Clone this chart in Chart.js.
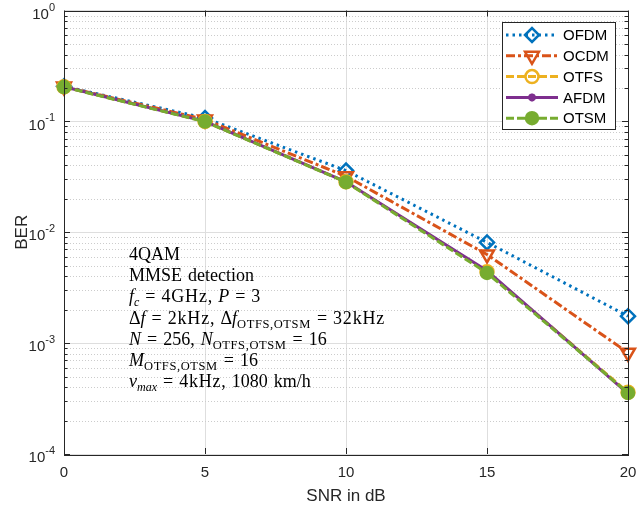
<!DOCTYPE html>
<html lang="en">
<head>
<meta charset="UTF-8">
<title>BER vs SNR</title>
<script src="https://cdn.jsdelivr.net/npm/chart.js@4.4.1/dist/chart.umd.min.js"></script>
<style>
  body { margin: 0; background: #fff; }
  .wrap { position: relative; width: 640px; height: 507px; }
  #note {
    position: absolute; left: 129px; top: 244px;
    font: 18px "Liberation Serif", "DejaVu Serif", serif;
    line-height: 21.2px; color: #000; white-space: nowrap; word-spacing: 1.5px;
  }
  #note sub { font-size: 12px; vertical-align: -4px; line-height: 0; }
  #note sub.w { font-size: 12.5px; letter-spacing: 0.6px; }
  #note .eq { margin: 0 6px; }
  #note .u { letter-spacing: 0.8px; }
</style>
</head>
<body>
<div class="wrap">
  <canvas id="ber"></canvas>
  <div id="note">
    4QAM<br>
    MMSE detection<br>
    <i>f</i><sub><i>c</i></sub><span class="eq">=</span><span class="u">4GHz</span>, <i>P</i><span class="eq">=</span>3<br>
    Δ<i>f</i><span class="eq">=</span><span class="u">2kHz</span>, Δ<i>f</i><sub class="w">OTFS,OTSM</sub><span class="eq">=</span><span class="u">32kHz</span><br>
    <i>N</i><span class="eq">=</span>256, <i>N</i><sub class="w">OTFS,OTSM</sub><span class="eq">=</span>16<br>
    <i>M</i><sub class="w">OTFS,OTSM</sub><span class="eq">=</span>16<br>
    <i>ν</i><sub><i>max</i></sub><span class="eq">=</span><span class="u">4kHz</span>, 1080 km/h
  </div>
</div>
<script>
// values
const snr = [0, 5, 10, 15, 20];
const berOFDM = [0.207, 0.107, 0.036, 0.0081, 0.00175];
const berOCDM = [0.206, 0.104, 0.032, 0.0063, 0.00082];
const berOTFS = [0.205, 0.100, 0.0285, 0.0044, 0.00036];
const berAFDM = [0.205, 0.100, 0.0285, 0.0045, 0.00035];
const berOTSM = [0.204, 0.0995, 0.0283, 0.0043, 0.000355];
const xTicks = [0, 5, 10, 15, 20];
const yExp = [0, -1, -2, -3, -4];

const axisCol = '#262626';

function pts(arr) {
  return snr.map((s, i) => ({ x: s, y: arr[i] }));
}

const datasets = [
  { label: 'OFDM', data: pts(berOFDM), borderColor: '#0072BD', borderDash: [2.5, 4],
    pointStyle: 'rectRot', pointRadius: 7, pointRotation: 0, pointBackgroundColor: 'rgba(0,0,0,0)', order: 5 },
  { label: 'OCDM', data: pts(berOCDM), borderColor: '#D95319', borderDash: [9, 3, 3, 3],
    pointStyle: 'triangle', pointRadius: 8, pointRotation: 180, pointBackgroundColor: 'rgba(0,0,0,0)', order: 4 },
  { label: 'OTFS', data: pts(berOTFS), borderColor: '#EDB120', borderDash: [8, 3],
    pointStyle: 'circle', pointRadius: 6.5, pointRotation: 0, pointBackgroundColor: 'rgba(0,0,0,0)', order: 3 },
  { label: 'AFDM', data: pts(berAFDM), borderColor: '#7E2F8E', borderDash: [],
    pointStyle: 'star', pointRadius: 4, pointRotation: 0, pointBackgroundColor: 'rgba(0,0,0,0)', order: 2 },
  { label: 'OTSM', data: pts(berOTSM), borderColor: '#77AC30', borderDash: [8, 3],
    pointStyle: 'circle', pointRadius: 6, pointRotation: 0, pointBackgroundColor: '#77AC30', order: 1 }
];
datasets.forEach(d => {
  d.borderWidth = 3;
  d.pointBorderColor = d.borderColor;
  d.pointBorderWidth = 2.5;
  d.pointHoverRadius = d.pointRadius;
  d.tension = 0;
  d.clip = false;
});

const matlabLook = {
  id: 'matlabLook',
  beforeDatasetsDraw(chart) {
    const { ctx, chartArea: a, scales: { y } } = chart;
    ctx.save();
    ctx.strokeStyle = '#cccccc';
    ctx.lineWidth = 1;
    ctx.setLineDash([1, 2]);
    yExp.slice(0, -1).forEach(e => {
      for (let m = 2; m <= 9; m++) {
        const py = Math.round(y.getPixelForValue(m * Math.pow(10, e - 1))) + 0.5;
        ctx.beginPath(); ctx.moveTo(a.left, py); ctx.lineTo(a.right, py); ctx.stroke();
      }
    });
    ctx.restore();
  },
  afterDraw(chart) {
    const { ctx, chartArea: a, scales: { x, y } } = chart;
    ctx.save();
    ctx.strokeStyle = axisCol;
    ctx.lineWidth = 1;
    ctx.setLineDash([]);
    ctx.strokeRect(Math.round(a.left) + 0.5, Math.round(a.top) + 0.5,
      Math.round(a.right - a.left), Math.round(a.bottom - a.top));
    // inward ticks
    ctx.beginPath();
    yExp.forEach(e => {
      const py = Math.round(y.getPixelForValue(Math.pow(10, e))) + 0.5;
      ctx.moveTo(a.left, py); ctx.lineTo(a.left + 6, py);
      ctx.moveTo(a.right, py); ctx.lineTo(a.right - 6, py);
      if (e > -4) {
        for (let m = 2; m <= 9; m++) {
          const q = Math.round(y.getPixelForValue(m * Math.pow(10, e - 1))) + 0.5;
          ctx.moveTo(a.left, q); ctx.lineTo(a.left + 3.5, q);
          ctx.moveTo(a.right, q); ctx.lineTo(a.right - 3.5, q);
        }
      }
    });
    xTicks.forEach(t => {
      const px = Math.round(x.getPixelForValue(t)) + 0.5;
      ctx.moveTo(px, a.bottom); ctx.lineTo(px, a.bottom - 6);
      ctx.moveTo(px, a.top); ctx.lineTo(px, a.top + 6);
    });
    ctx.stroke();

    // y tick labels 10^e
    ctx.fillStyle = axisCol;
    ctx.textBaseline = 'middle';
    ctx.textAlign = 'left';
    yExp.forEach(e => {
      const py = y.getPixelForValue(Math.pow(10, e));
      const sup = String(e);
      ctx.font = '11px "Liberation Sans", Arial, sans-serif';
      const we = ctx.measureText(sup).width;
      ctx.font = '15px "Liberation Sans", Arial, sans-serif';
      const wb = ctx.measureText('10').width;
      const right = a.left - 9;
      ctx.fillText('10', right - we - wb, py + 4);
      ctx.font = '11px "Liberation Sans", Arial, sans-serif';
      ctx.fillText(sup, right - we, py - 3);
    });

    // legend
    const lx = 502, ly = 22, lw = 113, lh = 107;
    ctx.fillStyle = '#fff';
    ctx.fillRect(lx, ly, lw, lh);
    ctx.strokeStyle = axisCol;
    ctx.lineWidth = 1;
    ctx.strokeRect(lx + 0.5, ly + 0.5, lw, lh);
    chart.data.datasets.forEach((d, i) => {
      const cy = 35 + i * 20.8;
      ctx.strokeStyle = d.borderColor;
      ctx.lineWidth = d.borderWidth;
      ctx.setLineDash(d.borderDash);
      ctx.beginPath(); ctx.moveTo(506, cy); ctx.lineTo(558, cy); ctx.stroke();
      ctx.setLineDash([]);
      ctx.fillStyle = d.pointBackgroundColor;
      ctx.lineWidth = d.pointBorderWidth;
      Chart.helpers.drawPoint(ctx, { pointStyle: d.pointStyle, radius: d.pointRadius,
        rotation: d.pointRotation, borderWidth: d.pointBorderWidth }, 532, cy);
      ctx.fillStyle = '#000';
      ctx.font = '15px "Liberation Sans", Arial, sans-serif';
      ctx.textAlign = 'left';
      ctx.fillText(d.label, 563, cy + 1);
    });
    ctx.restore();
  }
};

new Chart(document.getElementById('ber'), {
  type: 'line',
  data: { datasets: datasets },
  options: {
    responsive: true,
    maintainAspectRatio: false,
    animation: false,
    layout: { padding: { top: 8, right: 12, left: 0, bottom: 0 } },
    plugins: { legend: { display: false }, tooltip: { enabled: false } },
    scales: {
      x: {
        type: 'linear', min: 0, max: 20,
        afterBuildTicks: s => { s.ticks = xTicks.map(v => ({ value: v })); },
        afterFit: s => { s.height = 53; s.paddingLeft = 0; s.paddingRight = 0; },
        grid: { color: '#dedede', drawTicks: false },
        border: { display: false },
        ticks: { padding: 10, color: axisCol, font: { family: '"Liberation Sans", Arial, sans-serif', size: 15 } },
        title: { display: true, text: 'SNR in dB', color: axisCol, padding: 0,
          font: { family: '"Liberation Sans", Arial, sans-serif', size: 17 } }
      },
      y: {
        type: 'logarithmic', min: 1e-4, max: 1,
        afterBuildTicks: s => { s.ticks = yExp.map(e => ({ value: Math.pow(10, e) })); },
        afterFit: s => { s.width = 64; s.paddingTop = 0; s.paddingBottom = 0; },
        grid: { color: '#dedede', drawTicks: false },
        border: { display: false },
        ticks: { callback: () => '', padding: 0 },
        title: { display: true, text: 'BER', color: axisCol, padding: { top: 12, bottom: 0 },
          font: { family: '"Liberation Sans", Arial, sans-serif', size: 17 } }
      }
    }
  },
  plugins: [matlabLook]
});
</script>
</body>
</html>
